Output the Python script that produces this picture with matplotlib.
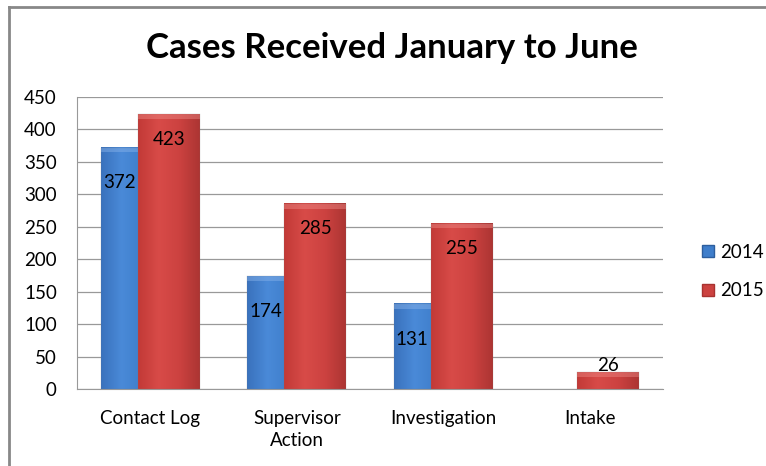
import numpy as np
import matplotlib
matplotlib.use("Agg")
import matplotlib.pyplot as plt
from matplotlib.patches import Rectangle
from matplotlib.lines import Line2D
from matplotlib.colors import LinearSegmentedColormap

plt.rcParams["font.family"] = ["Lato", "DejaVu Sans"]

# Data
categories = ["Contact Log", "Supervisor\nAction", "Investigation", "Intake"]
cases_2014 = [372, 174, 131, 0]
cases_2015 = [423, 285, 255, 26]
years = ["2014", "2015"]

blue_cmap = LinearSegmentedColormap.from_list("b", ["#3a72bd", "#4a8ad8", "#3f7ecb", "#33689f"])
red_cmap = LinearSegmentedColormap.from_list("r", ["#c23a37", "#d84b48", "#cc4240", "#ad3533"])

fig = plt.figure(figsize=(7.66, 4.66), dpi=100)
ax = fig.add_axes([0.1005, 0.165, 0.765, 0.627])

x = np.arange(len(categories))
width = 0.423
shift = 0.1265
grad = np.linspace(0, 1, 64).reshape(1, -1)
fs = 13.5


def draw_bar(xc, v, cmap, light, z):
    if v <= 0:
        return
    x0, x1 = xc - width / 2, xc + width / 2
    ax.imshow(grad, cmap=cmap, extent=[x0, x1, 0, v], aspect="auto", zorder=z)
    cap = min(7, v * 0.3)
    ax.add_patch(Rectangle((x0, v - cap), width, cap, facecolor=light,
                           edgecolor="none", alpha=0.45, zorder=z + 0.1))
    ax.add_patch(Rectangle((x0, 0), width, v, facecolor="none",
                           edgecolor="#777777", linewidth=0.3, alpha=0.4, zorder=z + 0.2))


for i in range(len(categories)):
    draw_bar(x[i] - shift, cases_2014[i], blue_cmap, "#8ab4ea", 3)
    draw_bar(x[i] + shift, cases_2015[i], red_cmap, "#ee8a86", 4)

# value labels
for i in range(len(categories)):
    v = cases_2014[i]
    if v > 0:
        xl = x[i] - shift - width / 2 + shift
        ax.text(xl, v - 54, str(v), ha="center", va="center", fontsize=fs, zorder=6)
    v = cases_2015[i]
    yl = v - 38 if v > 60 else v + 10
    ax.text(x[i] + shift, yl, str(v), ha="center", va="center", fontsize=fs, zorder=6)

ax.set_xlim(-0.5, 3.5)
ax.set_ylim(0, 450)
ax.set_yticks(np.arange(0, 451, 50))
ax.set_xticks(x)
ax.set_xticklabels(categories, fontsize=fs, linespacing=1.35)
ax.tick_params(axis="y", labelsize=fs, length=0, pad=14.5)
ax.tick_params(axis="x", length=0, pad=15)
ax.grid(axis="y", color="#999999", linewidth=0.9, zorder=0)
ax.set_axisbelow(True)
for s in ["top", "right"]:
    ax.spines[s].set_visible(False)
ax.spines["left"].set_color("#999999")
ax.spines["bottom"].set_color("#999999")
for lbl in ax.get_yticklabels():
    lbl.set_horizontalalignment("right")

fig.text(0.512, 0.897, "Cases Received January to June", ha="center", va="center",
         fontsize=25, fontweight="bold")

handles = [Line2D([], [], marker="s", linestyle="none", markersize=8,
                  markerfacecolor="#3f7ecb", markeredgecolor="#2d5e9e"),
           Line2D([], [], marker="s", linestyle="none", markersize=8,
                  markerfacecolor="#cc4240", markeredgecolor="#a83230")]
fig.legend(handles, years, loc="center left", bbox_to_anchor=(0.893, 0.417),
           frameon=False, fontsize=fs, labelspacing=1.15, handletextpad=0.2,
           handlelength=0.8)

# outer chart border
fig.add_artist(Line2D([0.012, 0.012], [0.0, 0.986], transform=fig.transFigure,
                      color="#888888", linewidth=2))
fig.add_artist(Line2D([0.012, 1.0], [0.986, 0.986], transform=fig.transFigure,
                      color="#888888", linewidth=2))

fig.savefig("out.png", dpi=100)
